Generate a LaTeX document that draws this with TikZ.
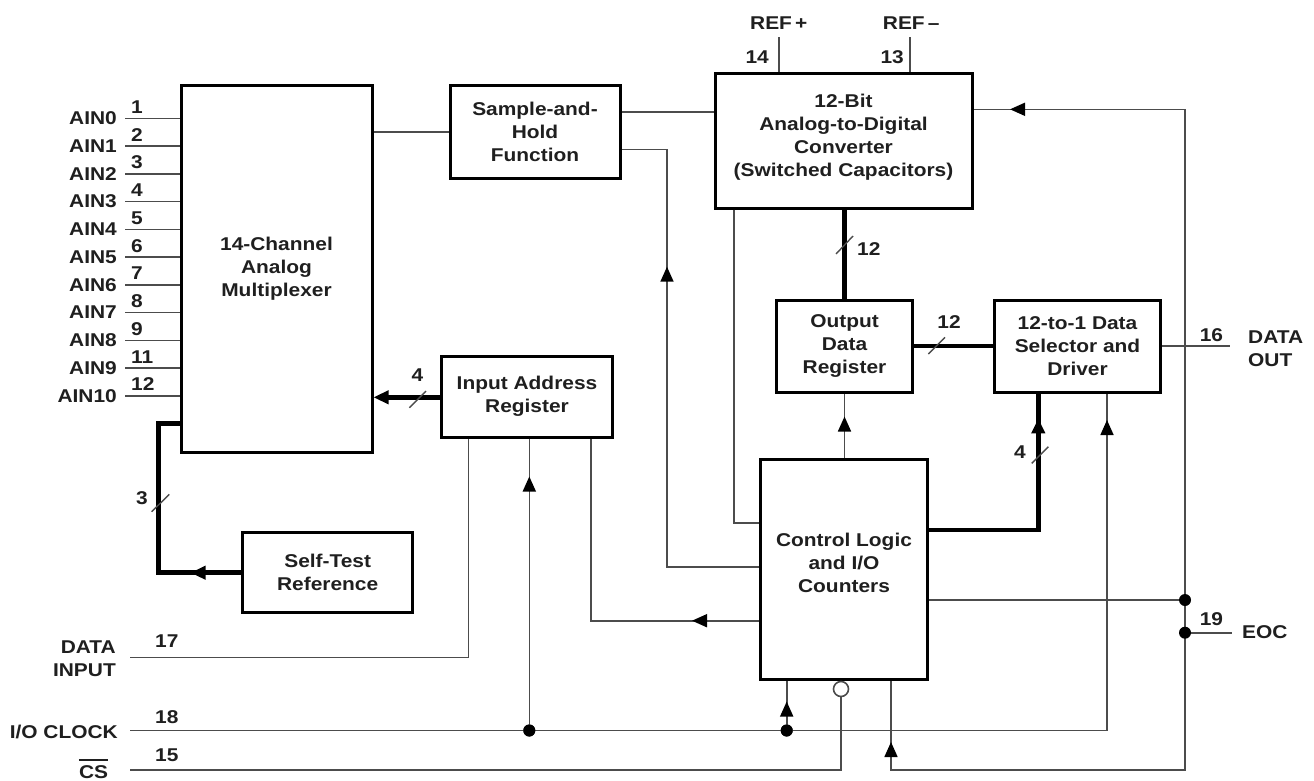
\documentclass[tikz,border=0pt]{standalone}
\usepackage{fontspec}
\setmainfont{Liberation Sans}[FakeStretch=1.13]
\usetikzlibrary{arrows.meta,decorations.markings,calc}
\begin{document}
\begin{tikzpicture}[x=1pt,y=-1pt,
  >={Triangle[length=15pt,width=13pt]},
  txt/.style={font=\bfseries\fontsize{18.5}{23}\selectfont, text=black!88, inner sep=0pt},
  blk/.style={txt, draw=black, line width=3pt, align=center, fill=white},
  wire/.style={draw=black!70, line width=1.6pt},
  bus/.style={draw=black, line width=4.5pt},
  slash/.style={draw=black!70, line width=1.4pt},
  dot/.style={circle, fill=black, inner sep=0pt, minimum size=12pt},
  arrowat/.style={postaction={decorate,decoration={markings,mark=at position #1 with {\arrow[black]{>}}}}}]
\useasboundingbox[fill=white] (0,0) rectangle (1314,780);

% blocks
\node[blk, minimum width=191pt, minimum height=367pt] (mux) at (276.5,268.5) {14-Channel\\Analog\\Multiplexer};
\node[blk, minimum width=170pt, minimum height=93pt] (sh) at (535,131.5) {Sample-and-\\Hold\\Function};
\node[blk, minimum width=257pt, minimum height=135pt, label={[txt, align=center, yshift=3pt]center:12-Bit\\Analog-to-Digital\\Converter\\(Switched Capacitors)}] (adc) at (843.5,140.5) {};
\node[blk, minimum width=171pt, minimum height=81pt] (iar) at (527,396.5) {Input Address\\Register};
\node[blk, minimum width=170pt, minimum height=80pt] (st) at (327.7,572.7) {Self-Test\\Reference};
\node[blk, minimum width=136pt, minimum height=92pt] (odr) at (844.5,346) {Output\\Data\\Register};
\node[blk, minimum width=166pt, minimum height=92pt] (sel) at (1077.5,346.5) {12-to-1 Data\\Selector and\\Driver};
\node[blk, minimum width=167pt, minimum height=220pt, label={[txt, align=center, yshift=6pt]center:Control Logic\\and I/O\\Counters}] (ctl) at (844,569) {};

% analog inputs
\foreach \p [count=\i from 0] in {1,2,3,4,5,6,7,8,9,11,12} {
  \pgfmathsetmacro\yy{118.3+27.75*\i}
  \coordinate (ain\i) at (125,\yy);
  \draw[wire] (ain\i) -- (ain\i -| mux.west);
  \node[txt, anchor=east] (ainl\i) at (117,\yy) {AIN\i};
  \node[txt, anchor=base west] (ainp\i) at (131,\yy-5) {\p};
}

% references
\coordinate (refp) at (779,37);
\coordinate (refm) at (910,37);
\draw[wire] (refp) -- (refp |- adc.north);
\draw[wire] (refm) -- (refm |- adc.north);
\node[txt, anchor=base west] (refpl) at (750,29.3) {REF\,+};
\node[txt, anchor=base west] (refml) at (882.7,29.3) {REF\,--};
\node[txt, anchor=base east] (p14) at (769,63.3) {14};
\node[txt, anchor=base east] (p13) at (904,63.3) {13};

% mux -> S/H -> ADC
\draw[wire] (mux.east |- 0,131.7) -- (sh.west |- 0,131.7);
\draw[wire] (sh.east |- 0,111.7) -- (adc.west |- 0,111.7);
\draw[wire, arrowat=392pt] (ctl.west |- 0,566.7) -| (667,149.3) -- (sh.east |- 0,149.3);
\draw[wire] (adc.south -| 733.7,0) |- (ctl.west |- 0,522.7);

% ADC -> ODR -> selector
\draw[bus] (adc.south -| odr.north) -- (odr.north);
\draw[slash] (836,254) -- (853,236);
\node[txt, anchor=west] (b12a) at (857,249) {12};
\draw[bus] (odr.east) -- (odr.east -| sel.west);
\draw[slash] (928.3,354) -- (945,337.3);
\node[txt] (b12b) at (949,321.7) {12};
\draw[wire, arrowat=41pt] (odr.south |- ctl.north) -- (odr.south);
\draw[bus, arrowat=221pt] (ctl.east |- 0,530) -| (sel.south -| 1038.3,0);
\draw[slash] (1031.7,463.3) -- (1048.3,446.7);
\node[txt] (b4b) at (1020,452.3) {4};

% data out
\coordinate (dout) at (1230,346);
\draw[wire] (sel.east |- dout) -- (dout);
\node[txt, anchor=base east] (p16) at (1223.3,341) {16};
\node[txt, anchor=west, align=left] (doutl) at (1248,348.5) {DATA\\OUT};

% address register -> mux
\draw[bus, ->] (iar.west |- 0,397.3) -- (mux.east |- 0,397.3);
\draw[slash] (409.3,407.7) -- (426,391);
\node[txt] (b4a) at (417.5,375) {4};

% self-test -> mux
\draw[bus, arrowat=50.7pt] (st.west) -| (158.3,423.3) -- (mux.west |- 0,423.3);
\draw[slash] (151.7,511.7) -- (169.3,494.3);
\node[txt] (b3) at (142,498.3) {3};

% control -> address register
\draw[wire, arrowat=67pt] (ctl.west |- 0,620.7) -| (iar.south -| 591,0);

% data input
\coordinate (din) at (130,657.3);
\draw[wire] (din) -| (iar.south -| 468.3,0);
\node[txt, anchor=east, align=right] (dinl) at (116,658.3) {DATA\\INPUT};
\node[txt, anchor=base west] (p17) at (155,647.7) {17};

% I/O clock
\coordinate (clkin) at (130,730.5);
\node[dot] (clk1) at (529.3,730.5) {};
\node[dot] (clk2) at (786.7,730.5) {};
\draw[wire, arrowat=1287.5pt] (clkin) -| (sel.south -| 1107,0);
\draw[wire, arrowat=254pt] (clk1.center) -- (clk1 |- iar.south);
\draw[wire, arrowat=29pt] (clk2.center) -- (clk2 |- ctl.south);
\node[dot] at (clk1) {};
\node[dot] at (clk2) {};
\node[txt, anchor=east] (clkl) at (118,731.5) {I/O CLOCK};
\node[txt, anchor=base west] (p18) at (155,723.3) {18};

% chip select
\coordinate (csin) at (130,770);
\node[circle, draw=black!70, line width=1.6pt, fill=white, minimum size=15pt, inner sep=0pt] (bub) at (841,689) {};
\draw[wire] (csin) -| (bub.south);
\node[txt, anchor=base east] (csl) at (108.3,778) {CS};
\draw[line width=2pt, black!88] (csl.north west) ++(0,-5) -- ($(csl.north east)+(0,-5)$);
\node[txt, anchor=base west] (p15) at (155,761.7) {15};

% EOC
\coordinate (e1) at (1185,600);
\coordinate (e2) at (1185,632.7);
\coordinate (eocout) at (1232,632.7);
\draw[wire] (ctl.east |- e1) -- (e1);
\draw[wire, arrowat=665.7pt] (e1) |- (adc.east |- 0,109.3);
\draw[wire, arrowat=492pt] (e1) -- (1185,770) -| (ctl.south -| 891,0);
\draw[wire] (e2) -- (eocout);
\node[dot] (d1) at (e1) {};
\node[dot] (d2) at (e2) {};
\node[txt, anchor=base east] (p19) at (1223.3,625.7) {19};
\node[txt, anchor=west] (eocl) at (1242,632) {EOC};
\end{tikzpicture}
\end{document}
